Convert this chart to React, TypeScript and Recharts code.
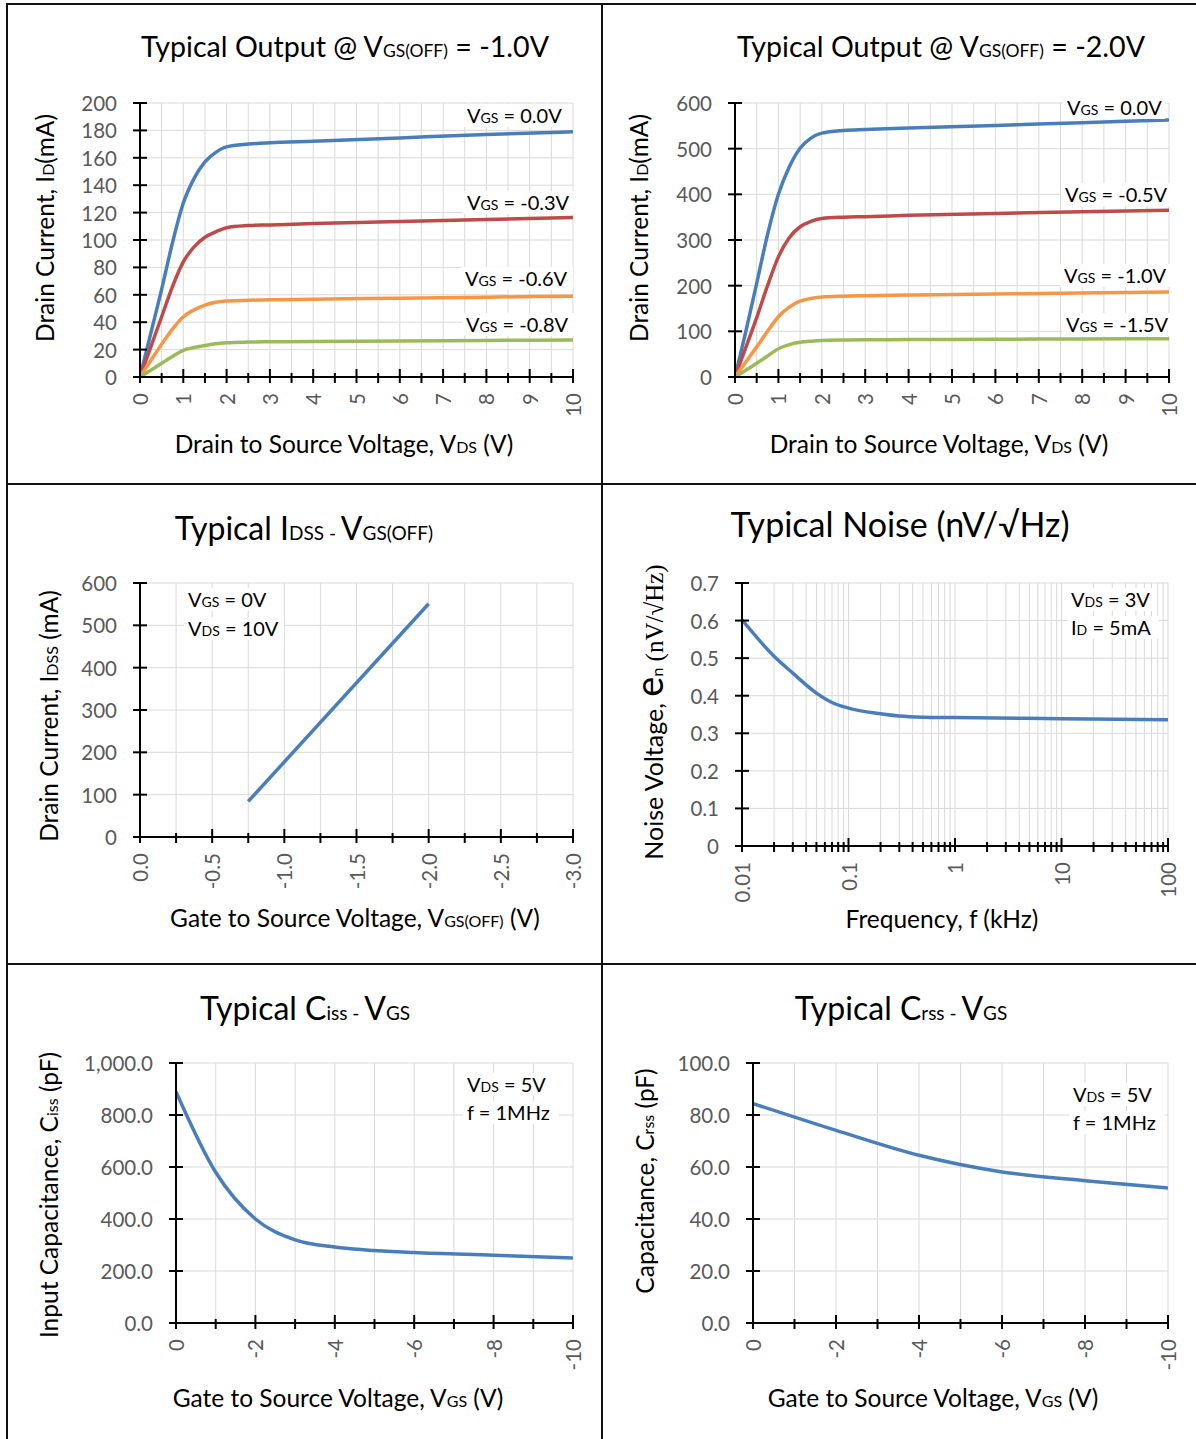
import React from "react";
import { LineChart, Line, XAxis, YAxis, CartesianGrid } from "recharts";

const FONT = "Lato, 'Open Sans', sans-serif";
const SERIF = "'Liberation Serif', 'DejaVu Serif', serif";
const GRID = "#d9d9d9";
const TICK_TEXT = "#595959";
const BLUE = "#4a7ebb";
const RED = "#be4b48";
const ORANGE = "#f79646";
const GREEN = "#9bbb59";
const TICK_FONT = 20.5;

// Typical Output @ VGS(OFF) = -1.0V
const vdsOut = [0, 0.25, 0.5, 0.75, 1, 1.25, 1.5, 1.75, 2, 2.5, 3, 4, 6, 8, 10];
const out1Vgs00 = [0, 32, 64, 98, 127, 145, 157, 164, 168, 170, 171, 172, 174.5, 177, 179];
const out1Vgs03 = [0, 22, 44, 66, 84, 95, 102, 106, 109, 110.5, 111, 112, 113.5, 115, 116.5];
const out1Vgs06 = [0, 12, 24, 35, 44, 49, 52.5, 54.5, 55.5, 56, 56.3, 56.8, 57.5, 58.3, 59];
const out1Vgs08 = [0, 5, 10, 15, 19.5, 21.5, 23, 24.3, 25, 25.5, 25.7, 26, 26.3, 26.7, 27];

// Typical Output @ VGS(OFF) = -2.0V
const out2Vgs00 = [0, 100, 205, 312, 400, 460, 501, 523, 534, 540, 542, 545, 551, 557, 563];
const out2Vgs05 = [0, 65, 130, 200, 263, 305, 329, 341, 347, 350, 351, 354, 358, 362, 365];
const out2Vgs10 = [0, 33, 66, 100, 132, 153, 166, 172, 175, 177, 178, 179.5, 182, 184, 186];
const out2Vgs15 = [0, 15, 30, 46, 62, 71, 76, 78.5, 80, 81, 81.5, 82, 82.7, 83.3, 84];

const outXTicks = [0, 0.5, 1, 1.5, 2, 2.5, 3, 3.5, 4, 4.5, 5, 5.5, 6, 6.5, 7, 7.5, 8, 8.5, 9, 9.5, 10];
const out1YTicks = [0, 20, 40, 60, 80, 100, 120, 140, 160, 180, 200];
const out2YTicks = [0, 100, 200, 300, 400, 500, 600];

// Typical IDSS - VGS(OFF)
const idssVgsOff = [-0.75, -2.0];
const idssValues = [84, 551];
const idssXTicks = [0, -0.25, -0.5, -0.75, -1, -1.25, -1.5, -1.75, -2, -2.25, -2.5, -2.75, -3];
const idssYTicks = [0, 100, 200, 300, 400, 500, 600];

// Typical Noise
const noiseFreq = [0.01, 0.02, 0.03, 0.05, 0.07, 0.1, 0.2, 0.3, 0.5, 1, 10, 100];
const noiseEn = [0.602, 0.505, 0.46, 0.407, 0.382, 0.367, 0.352, 0.346, 0.343, 0.342, 0.339, 0.336];
const noiseXTicks = [
  0.01, 0.02, 0.03, 0.04, 0.05, 0.06, 0.07, 0.08, 0.09,
  0.1, 0.2, 0.3, 0.4, 0.5, 0.6, 0.7, 0.8, 0.9,
  1, 2, 3, 4, 5, 6, 7, 8, 9,
  10, 20, 30, 40, 50, 60, 70, 80, 90, 100,
];
const noiseXLabels = [0.01, 0.1, 1, 10, 100];
const noiseYTicks = [0, 0.1, 0.2, 0.3, 0.4, 0.5, 0.6, 0.7];

// Typical Ciss - VGS
const cissVgs = [0, -1, -2, -3, -4, -6, -8, -10];
const cissValues = [890, 580, 400, 320, 292, 271, 261, 250];
const capXTicks = [0, -1, -2, -3, -4, -5, -6, -7, -8, -9, -10];
const cissYTicks = [0, 200, 400, 600, 800, 1000];

// Typical Crss - VGS
const crssVgs = [0, -2, -4, -6, -8, -10];
const crssValues = [84.4, 74.1, 64.5, 58.1, 54.7, 51.9];
const crssYTicks = [0, 20, 40, 60, 80, 100];

type Series = { key: string; color: string; values: number[] };
type Plot = { l: number; t: number; r: number; b: number };

const near = (a: number, b: number) => Math.abs(a - b) < 1e-9;

function makeXTick(isMajor: (v: number) => boolean, fmt: (v: number) => string) {
  return (props: any) => {
    const { x, y, payload } = props;
    const v = payload.value;
    const major = isMajor(v);
    const ly = y + 16;
    return (
      <g>
        <line x1={x} x2={x} y1={y - (major ? 8 : 4)} y2={y + 6} stroke="#000" strokeWidth={2} />
        {major && (
          <text
            x={x}
            y={ly}
            transform={`rotate(-90 ${x} ${ly})`}
            textAnchor="end"
            dominantBaseline="central"
            fill={TICK_TEXT}
            fontSize={TICK_FONT}
            fontFamily={FONT}
          >
            {fmt(v)}
          </text>
        )}
      </g>
    );
  };
}

function makeYTick(fmt: (v: number) => string) {
  return (props: any) => {
    const { x, y, payload } = props;
    return (
      <g>
        <line x1={x - 7} x2={x + 7} y1={y} y2={y} stroke="#000" strokeWidth={2} />
        <text
          x={x - 23}
          y={y}
          textAnchor="end"
          dominantBaseline="central"
          fill={TICK_TEXT}
          fontSize={TICK_FONT}
          fontFamily={FONT}
        >
          {fmt(payload.value)}
        </text>
      </g>
    );
  };
}

function Panel({
  plot,
  xs,
  series,
  xDomain,
  xTicks,
  xReversed,
  xLog,
  xMajor,
  xFormat,
  yDomain,
  yTicks,
  yFormat,
  lineType = "monotone",
}: {
  plot: Plot;
  xs: number[];
  series: Series[];
  xDomain: [number, number];
  xTicks: number[];
  xReversed?: boolean;
  xLog?: boolean;
  xMajor: (v: number) => boolean;
  xFormat: (v: number) => string;
  yDomain: [number, number];
  yTicks: number[];
  yFormat: (v: number) => string;
  lineType?: "monotone" | "linear";
}) {
  const data = xs.map((x, i) => {
    const row: Record<string, number> = { x };
    series.forEach((s) => (row[s.key] = s.values[i]));
    return row;
  });
  const left = plot.l - 110;
  const top = plot.t - 20;
  const width = plot.r - plot.l + 125;
  const height = plot.b - plot.t + 100;
  return (
    <div style={{ position: "absolute", left, top, width, height }}>
      <LineChart
        width={width}
        height={height}
        data={data}
        margin={{ top: 20, right: 15, left: 70, bottom: 50 }}
        style={{ overflow: "visible" }}
      >
        <CartesianGrid stroke={GRID} strokeWidth={1} />
        <XAxis
          type="number"
          dataKey="x"
          domain={xDomain}
          ticks={xTicks}
          scale={xLog ? "log" : "auto"}
          reversed={xReversed}
          allowDataOverflow
          interval={0}
          height={30}
          tickSize={0}
          tickMargin={0}
          axisLine={{ stroke: "#000", strokeWidth: 2 }}
          tickLine={false}
          tick={makeXTick(xMajor, xFormat)}
        />
        <YAxis
          type="number"
          domain={yDomain}
          ticks={yTicks}
          allowDataOverflow
          interval={0}
          width={40}
          tickSize={0}
          tickMargin={0}
          axisLine={{ stroke: "#000", strokeWidth: 2 }}
          tickLine={false}
          tick={makeYTick(yFormat)}
        />
        {series.map((s) => (
          <Line
            key={s.key}
            type={lineType}
            dataKey={s.key}
            stroke={s.color}
            strokeWidth={3.5}
            dot={false}
            activeDot={false}
            isAnimationActive={false}
          />
        ))}
      </LineChart>
    </div>
  );
}

type Run = string | { t: string; s?: number; f?: string };
const sub = (t: string, s: number): Run => ({ t, s });

function Txt({
  x,
  y,
  size,
  runs,
  anchor = "start",
  rotate,
}: {
  x: number;
  y: number;
  size: number;
  runs: Run[];
  anchor?: "start" | "middle" | "end";
  rotate?: boolean;
}) {
  return (
    <text
      x={x}
      y={y}
      fontSize={size}
      fontFamily={FONT}
      textAnchor={anchor}
      fill="#000"
      transform={rotate ? `rotate(-90 ${x} ${y})` : undefined}
      style={{ whiteSpace: "pre" }}
    >
      {runs.map((r, i) =>
        typeof r === "string" ? (
          <tspan key={i}>{r}</tspan>
        ) : (
          <tspan key={i} fontSize={r.s} fontFamily={r.f}>
            {r.t}
          </tspan>
        )
      )}
    </text>
  );
}

// annotation text box: white fill behind the text, as in the source sheet
function Note({ x, y, w, runs }: { x: number; y: number; w: number; runs: Run[] }) {
  return (
    <g>
      <rect x={x - 4} y={y - 19} width={w + 8} height={23} fill="#fff" />
      <Txt x={x} y={y} size={20} runs={runs} />
    </g>
  );
}

const int = (v: number) => near(v, Math.round(v));
const half = (v: number) => near(v * 2, Math.round(v * 2));
const AX = 24.5;
const AXS = 16;

export default function App() {
  const outFmt = (v: number) => String(v);
  return (
    <div
      style={{
        position: "absolute",
        left: 0,
        top: 0,
        width: 1196,
        height: 1439,
        background: "#fff",
        overflow: "hidden",
      }}
    >
      <Panel
        plot={{ l: 140, t: 103, r: 573, b: 377 }}
        xs={vdsOut}
        series={[
          { key: "vgs00", color: BLUE, values: out1Vgs00 },
          { key: "vgs03", color: RED, values: out1Vgs03 },
          { key: "vgs06", color: ORANGE, values: out1Vgs06 },
          { key: "vgs08", color: GREEN, values: out1Vgs08 },
        ]}
        xDomain={[0, 10]}
        xTicks={outXTicks}
        xMajor={int}
        xFormat={outFmt}
        yDomain={[0, 200]}
        yTicks={out1YTicks}
        yFormat={outFmt}
      />
      <Panel
        plot={{ l: 735, t: 103, r: 1169, b: 377 }}
        xs={vdsOut}
        series={[
          { key: "vgs00", color: BLUE, values: out2Vgs00 },
          { key: "vgs05", color: RED, values: out2Vgs05 },
          { key: "vgs10", color: ORANGE, values: out2Vgs10 },
          { key: "vgs15", color: GREEN, values: out2Vgs15 },
        ]}
        xDomain={[0, 10]}
        xTicks={outXTicks}
        xMajor={int}
        xFormat={outFmt}
        yDomain={[0, 600]}
        yTicks={out2YTicks}
        yFormat={outFmt}
      />
      <Panel
        plot={{ l: 140, t: 583, r: 573, b: 837 }}
        xs={idssVgsOff}
        series={[{ key: "idss", color: BLUE, values: idssValues }]}
        xDomain={[-3, 0]}
        xReversed
        xTicks={idssXTicks}
        xMajor={half}
        xFormat={(v) => v.toFixed(1)}
        yDomain={[0, 600]}
        yTicks={idssYTicks}
        yFormat={outFmt}
        lineType="linear"
      />
      <Panel
        plot={{ l: 742, t: 583, r: 1168, b: 846 }}
        xs={noiseFreq}
        series={[{ key: "en", color: BLUE, values: noiseEn }]}
        xDomain={[0.01, 100]}
        xLog
        xTicks={noiseXTicks}
        xMajor={(v) => noiseXLabels.some((l) => Math.abs(l - v) < l * 1e-6)}
        xFormat={(v) => String(v)}
        yDomain={[0, 0.7]}
        yTicks={noiseYTicks}
        yFormat={(v) => String(v)}
      />
      <Panel
        plot={{ l: 176, t: 1063, r: 573, b: 1323 }}
        xs={cissVgs}
        series={[{ key: "ciss", color: BLUE, values: cissValues }]}
        xDomain={[-10, 0]}
        xReversed
        xTicks={capXTicks}
        xMajor={(v) => near(v / 2, Math.round(v / 2))}
        xFormat={(v) => String(v)}
        yDomain={[0, 1000]}
        yTicks={cissYTicks}
        yFormat={(v) =>
          v.toLocaleString("en-US", { minimumFractionDigits: 1, maximumFractionDigits: 1 })
        }
      />
      <Panel
        plot={{ l: 753, t: 1063, r: 1168, b: 1323 }}
        xs={crssVgs}
        series={[{ key: "crss", color: BLUE, values: crssValues }]}
        xDomain={[-10, 0]}
        xReversed
        xTicks={capXTicks}
        xMajor={(v) => near(v / 2, Math.round(v / 2))}
        xFormat={(v) => String(v)}
        yDomain={[0, 100]}
        yTicks={crssYTicks}
        yFormat={(v) => v.toFixed(1)}
      />

      <svg
        width={1196}
        height={1439}
        style={{ position: "absolute", left: 0, top: 0, pointerEvents: "none" }}
      >
        {/* table rules */}
        <g stroke="#111" strokeWidth={2}>
          <line x1={6} x2={1196} y1={4} y2={4} />
          <line x1={7} x2={7} y1={3} y2={1439} />
          <line x1={602} x2={602} y1={3} y2={1439} />
          <line x1={6} x2={1196} y1={484} y2={484} />
          <line x1={6} x2={1196} y1={964} y2={964} />
        </g>

        {/* titles */}
        <Txt x={345} y={57} size={28.6} anchor="middle" runs={["Typical Output @ V", sub("GS(OFF)", 17.5), " = -1.0V"]} />
        <Txt x={941} y={57} size={28.6} anchor="middle" runs={["Typical Output @ V", sub("GS(OFF)", 17.5), " = -2.0V"]} />
        <Txt x={304} y={540} size={32} anchor="middle" runs={["Typical I", sub("DSS - ", 19), "V", sub("GS(OFF)", 19)]} />
        <Txt x={900} y={537} size={34} anchor="middle" runs={["Typical Noise (nV/√Hz)"]} />
        <Txt x={305} y={1020} size={32} anchor="middle" runs={["Typical C", sub("iss - ", 19), "V", sub("GS", 19)]} />
        <Txt x={901} y={1020} size={32} anchor="middle" runs={["Typical C", sub("rss - ", 19), "V", sub("GS", 19)]} />

        {/* x axis titles */}
        <Txt x={344} y={453} size={AX} anchor="middle" runs={["Drain to Source Voltage, V", sub("DS", AXS), " (V)"]} />
        <Txt x={939} y={453} size={AX} anchor="middle" runs={["Drain to Source Voltage, V", sub("DS", AXS), " (V)"]} />
        <Txt x={355} y={927} size={AX} anchor="middle" runs={["Gate to Source Voltage, V", sub("GS(OFF)", AXS), " (V)"]} />
        <Txt x={942} y={928} size={AX} anchor="middle" runs={["Frequency, f (kHz)"]} />
        <Txt x={338} y={1407} size={AX} anchor="middle" runs={["Gate to Source Voltage, V", sub("GS", AXS), " (V)"]} />
        <Txt x={933} y={1407} size={AX} anchor="middle" runs={["Gate to Source Voltage, V", sub("GS", AXS), " (V)"]} />

        {/* y axis titles */}
        <Txt x={54} y={228} size={AX} anchor="middle" rotate runs={["Drain Current, I", sub("D", AXS), "(mA)"]} />
        <Txt x={648} y={228} size={AX} anchor="middle" rotate runs={["Drain Current, I", sub("D", AXS), "(mA)"]} />
        <Txt x={58} y={716} size={AX} anchor="middle" rotate runs={["Drain Current, I", sub("DSS", AXS), " (mA)"]} />
        <Txt
          x={663}
          y={712}
          size={25}
          anchor="middle"
          rotate
          runs={["Noise Voltage, ", { t: "e", s: 38 }, sub("n", 16), { t: " (nV/√Hz)", f: SERIF }]}
        />
        <Txt x={58} y={1195} size={AX} anchor="middle" rotate runs={["Input Capacitance, C", sub("iss", AXS), " (pF)"]} />
        <Txt x={654} y={1181} size={AX} anchor="middle" rotate runs={["Capacitance, C", sub("rss", AXS), " (pF)"]} />

        {/* annotations */}
        <Note x={467} y={123} w={96} runs={["V", sub("GS", 14), " = 0.0V"]} />
        <Note x={467} y={210} w={104} runs={["V", sub("GS", 14), " = -0.3V"]} />
        <Note x={465} y={286} w={104} runs={["V", sub("GS", 14), " = -0.6V"]} />
        <Note x={466} y={332} w={104} runs={["V", sub("GS", 14), " = -0.8V"]} />

        <Note x={1067} y={115} w={94} runs={["V", sub("GS", 14), " = 0.0V"]} />
        <Note x={1065} y={202} w={104} runs={["V", sub("GS", 14), " = -0.5V"]} />
        <Note x={1064} y={283} w={104} runs={["V", sub("GS", 14), " = -1.0V"]} />
        <Note x={1066} y={332} w={104} runs={["V", sub("GS", 14), " = -1.5V"]} />

        <Note x={188} y={607} w={80} runs={["V", sub("GS", 14), " = 0V"]} />
        <Note x={188} y={636} w={92} runs={["V", sub("DS", 14), " = 10V"]} />

        <Note x={1071} y={607} w={80} runs={["V", sub("DS", 14), " = 3V"]} />
        <Note x={1071} y={635} w={84} runs={["I", sub("D", 14), " = 5mA"]} />

        <Note x={467} y={1092} w={80} runs={["V", sub("DS", 14), " = 5V"]} />
        <Note x={467} y={1120} w={88} runs={["f = 1MHz"]} />

        <Note x={1073} y={1102} w={80} runs={["V", sub("DS", 14), " = 5V"]} />
        <Note x={1073} y={1130} w={88} runs={["f = 1MHz"]} />
      </svg>
    </div>
  );
}
